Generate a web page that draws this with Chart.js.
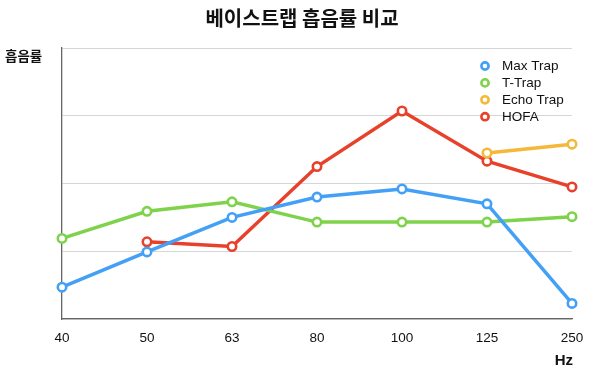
<!DOCTYPE html>
<html>
<head>
<meta charset="utf-8">
<script src="https://cdn.jsdelivr.net/npm/chart.js@4/dist/chart.umd.min.js"></script>
<style>
  body { margin: 0; background: #fff; }
  #wrap { width: 600px; height: 378px; position: relative; }
</style>
</head>
<body>
<div id="wrap"><canvas id="chart"></canvas></div>
<script>
const freqs = ['40', '50', '63', '80', '100', '125', '250'];
const maxTrap = [0.47, 0.99, 1.50, 1.80, 1.92, 1.70, 0.23];
const tTrap = [1.19, 1.59, 1.73, 1.43, 1.43, 1.43, 1.51];
const echoTrap = [null, null, null, null, null, 2.45, 2.58];
const hofa = [null, 1.14, 1.07, 2.25, 3.07, 2.33, 1.95];

const titleText = '베이스트랩 흡음률 비교';
const yTitle = '흡음률';
const xTitle = 'Hz';

const names = ['Max Trap', 'T-Trap', 'Echo Trap', 'HOFA'];
const colors = ['#43a0f6', '#7fd24c', '#f4b83a', '#e8412b'];
const seriesData = [maxTrap, tTrap, echoTrap, hofa];

const sans = '"Liberation Sans", Arial, sans-serif';
const kr = '"Noto Sans CJK KR", sans-serif';

const textPlugin = {
  id: 'texts',
  afterDraw(chart) {
    const ctx = chart.ctx;
    ctx.save();
    ctx.fillStyle = '#111';
    ctx.textBaseline = 'middle';

    ctx.font = 'bold 20px ' + kr;
    ctx.textAlign = 'center';
    ctx.fillText(titleText, 302, 18);

    ctx.font = 'bold 13.5px ' + kr;
    ctx.textAlign = 'left';
    ctx.fillText(yTitle, 5, 56);

    ctx.font = 'bold 15px ' + sans;
    ctx.textAlign = 'right';
    ctx.fillText(xTitle, 573, 361);

    // legend inside plot, top right
    ctx.font = '13.5px ' + sans;
    ctx.textAlign = 'left';
    names.forEach((n, i) => {
      const y = 66 + i * 16.9;
      ctx.beginPath();
      ctx.arc(485, y, 3.6, 0, Math.PI * 2);
      ctx.fillStyle = '#fff';
      ctx.fill();
      ctx.lineWidth = 2.6;
      ctx.strokeStyle = colors[i];
      ctx.stroke();
      ctx.fillStyle = '#111';
      ctx.fillText(n, 502, y + 0.5);
    });
    ctx.restore();
  }
};

new Chart(document.getElementById('chart'), {
  type: 'line',
  data: {
    labels: freqs,
    datasets: seriesData.map((d, i) => ({
      label: names[i],
      data: d,
      borderColor: colors[i],
      backgroundColor: '#fff',
      pointBackgroundColor: '#fff',
      pointBorderColor: colors[i],
      borderWidth: 3.5,
      pointRadius: 4.2,
      pointBorderWidth: 2.6,
      pointHoverRadius: 4.2,
      tension: 0,
      clip: false,
      spanGaps: false
    }))
  },
  options: {
    responsive: true,
    maintainAspectRatio: false,
    animation: false,
    layout: { padding: { left: 62, right: 28, top: 48, bottom: 0 } },
    plugins: {
      legend: { display: false },
      title: { display: false },
      tooltip: { enabled: false }
    },
    scales: {
      x: {
        offset: false,
        grid: { display: false },
        border: { display: true, color: '#666', width: 1.3 },
        ticks: { color: '#111', font: { family: sans, size: 13.5 }, padding: 3, maxRotation: 0 },
        afterFit: s => { s.height = 59; }
      },
      y: {
        min: 0,
        max: 4,
        ticks: { display: false, stepSize: 1 },
        grid: { color: '#d6d6d6', lineWidth: 1, drawTicks: false },
        border: { display: true, color: '#666', width: 1.3 },
        afterFit: s => { s.width = 0; }
      }
    }
  },
  plugins: [textPlugin]
});
</script>
</body>
</html>
